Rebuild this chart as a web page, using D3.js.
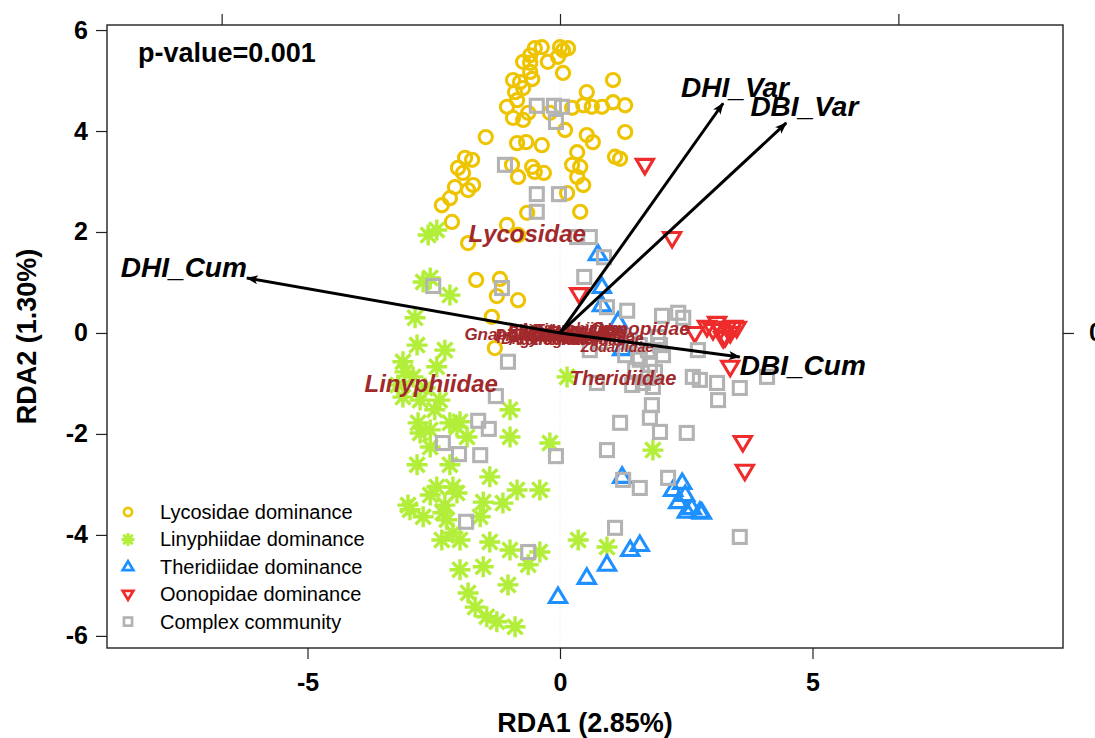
<!DOCTYPE html>
<html>
<head>
<meta charset="utf-8">
<script src="https://cdn.jsdelivr.net/npm/d3@7"></script>
<style>
  html, body { margin: 0; padding: 0; background: #fff; }
  svg { display: block; font-family: "Liberation Sans", Arial, Helvetica, sans-serif; }
</style>
</head>
<body>
<svg id="chart" width="1095" height="738"></svg>
<script>
// ---------------- data: RDA site scores per community type ----------------
const lycosidaeSites = [
  [-0.50,5.64],[-0.36,5.66],[0.00,5.66],[0.16,5.64],[0.06,5.60],[-0.59,5.50],[-0.73,5.37],[-0.59,5.35],
  [-0.24,5.37],[-0.04,5.47],[0.06,5.15],[-0.59,5.17],[-0.93,5.01],[-0.79,4.97],[-0.55,5.03],[-0.89,4.77],
  [-0.73,4.85],[1.05,5.01],[0.53,4.77],[-1.05,4.48],[-0.85,4.61],[-0.63,4.36],[-0.93,4.26],[-0.73,4.22],
  [-0.20,4.36],[0.24,4.46],[0.46,4.51],[0.63,4.48],[0.83,4.48],[1.05,4.57],[1.29,4.51],[0.10,4.02],
  [0.53,3.92],[0.65,3.78],[1.29,3.98],[-1.47,3.88],[-0.85,3.76],[-0.67,3.78],[-0.36,3.72],[0.34,3.58],
  [1.09,3.49],[1.19,3.45],[-1.88,3.47],[-1.74,3.43],[-2.02,3.27],[-1.92,3.17],[-1.72,2.93],[-2.08,2.89],
  [-2.18,2.67],[-2.34,2.53],[-0.95,3.33],[-0.83,3.09],[-0.55,3.29],[-0.50,3.19],[-0.32,3.17],[0.24,3.33],
  [0.40,3.29],[0.34,3.09],[0.46,2.93],[0.14,2.77],[-0.65,2.38],[0.40,2.40],[-2.14,2.20],[-1.82,1.78],
  [-1.05,2.14],[-0.83,1.94],[-1.66,1.05],[-1.19,1.07],[-1.25,0.73],[-0.83,0.65],[-1.35,0.32],[-1.29,-0.30],
  [-1.82,2.83]
];
const linyphiidaeSites = [
  [-2.61,1.94],[-2.44,2.04],[-2.71,1.01],[-2.57,1.09],[-2.18,0.75],[-2.87,0.30],[-2.83,-0.24],[-2.28,-0.34],
  [-3.11,-0.57],[-2.44,-0.67],[-2.91,-0.87],[-3.21,-1.03],[-2.67,-1.09],[-3.11,-1.27],[-2.77,-1.33],[-2.38,-1.33],
  [-0.99,-1.52],[-2.81,-1.78],[-2.18,-1.78],[-1.98,-1.76],[-2.77,-1.98],[-2.57,-1.92],[-2.04,-1.86],[-1.84,-2.06],
  [-0.99,-2.06],[-2.57,-2.26],[-0.20,-2.18],[-2.83,-2.61],[-2.18,-2.61],[-1.39,-2.85],[-0.40,-3.11],[-0.85,-3.11],
  [-2.57,-3.21],[-2.04,-3.17],[-2.44,-3.05],[-2.12,-3.05],[-1.52,-3.35],[-1.13,-3.37],[-2.97,-3.50],[-2.71,-3.64],
  [-2.24,-3.70],[-1.58,-3.64],[-2.32,-3.56],[-2.12,-3.96],[-2.34,-4.10],[-1.98,-4.10],[-1.39,-4.14],[-0.99,-4.30],
  [-0.40,-4.34],[-1.98,-4.69],[-1.52,-4.63],[-0.63,-4.59],[-1.03,-4.99],[-1.82,-5.15],[-1.68,-5.43],[-1.45,-5.62],
  [-1.25,-5.72],[-0.89,-5.82],[0.36,-4.10],[0.93,-4.24],[1.84,-2.32],[0.14,-0.87],[-3.07,-0.77],[-3.01,-3.41],
  [-2.48,-1.52],[-2.28,-3.41]
];
const theridiidaeSites = [
  [0.75,1.56],[0.83,0.91],[0.83,0.55],[1.15,0.22],[1.23,-0.32],[1.23,-2.85],[2.42,-2.97],[2.24,-3.11],
  [2.48,-3.21],[2.34,-3.35],[2.61,-3.47],[2.77,-3.54],[2.51,-3.54],[2.81,-3.56],[1.58,-4.20],[1.39,-4.30],
  [0.93,-4.59],[0.53,-4.85],[-0.04,-5.23]
];
const oonopidaeSites = [
  [1.68,3.33],[2.22,1.88],[0.38,0.77],[2.67,0.00],[2.91,0.12],[3.03,0.06],[3.11,0.20],[3.17,0.06],
  [3.27,-0.08],[3.31,0.10],[3.37,0.00],[3.43,0.12],[3.50,0.10],[3.23,-0.10],[3.37,-0.67],[3.62,-2.16],
  [3.66,-2.73]
];
const complexSites = [
  [-0.46,4.50],[-0.12,4.50],[0.04,4.48],[-0.08,4.18],[-1.09,3.33],[-0.46,2.75],[-0.02,2.75],[-0.46,2.40],
  [0.34,1.90],[0.59,1.90],[0.87,1.50],[-2.51,0.93],[-1.15,0.89],[0.48,1.11],[0.93,0.51],[1.33,0.44],
  [2.02,0.34],[2.44,0.30],[1.94,-0.08],[2.73,-0.34],[1.29,-0.44],[1.58,-0.53],[2.04,-0.44],[1.64,-0.99],
  [1.84,-1.07],[2.63,-0.87],[2.77,-0.93],[3.11,-0.99],[3.56,-1.09],[4.10,-0.87],[3.13,-1.33],[1.82,-1.43],
  [1.78,-1.68],[1.19,-1.78],[1.98,-1.96],[2.51,-1.98],[0.93,-2.32],[2.14,-2.87],[1.58,-3.07],[1.25,-2.91],
  [1.09,-3.86],[3.56,-4.04],[-1.03,-0.57],[-1.27,-1.25],[-1.62,-1.74],[-1.41,-1.90],[-2.32,-2.18],[-2.00,-2.40],
  [-1.58,-2.42],[-0.08,-2.44],[-1.86,-3.74],[-0.63,-4.34],[0.73,-0.99],[1.39,-0.14],[1.58,-0.24],[1.74,-0.34],
  [1.78,-0.63],[1.49,-0.73],[1.88,-0.77],[1.74,-0.89],[1.43,-1.03],[1.98,-0.24],[1.19,-0.10],[0.79,-0.18],
  [0.59,-0.34],[2.34,0.40]
];

const groupNames = ["Lycosidae dominance", "Linyphiidae dominance", "Theridiidae dominance",
                    "Oonopidae dominance", "Complex community"];

// family (species) scores and their relative abundance
const familyNames = ["Gnaphosidae","Pisauridae","Dictynidae","Salticidae","Agelenidae","Thomisidae",
  "Philodromidae","Araneidae","Amaurobiidae","Tetragnathidae","Clubionidae","Titanoecidae","Hahniidae",
  "Liocranidae","Corinnidae","Zodariidae","Oonopidae","Theridiidae","Lycosidae","Linyphiidae"];
const familyX = [-0.83,-0.50,-0.40,-0.28,-0.18,-0.08,0.02,0.12,0.18,0.22,0.32,0.42,0.52,0.62,0.85,1.13,1.58,1.25,-0.65,-2.55];
const familyY = [-0.02,-0.04,-0.10,0.02,-0.12,-0.05,0.06,0.00,0.10,-0.12,-0.06,0.08,0.04,-0.04,-0.10,-0.28,0.10,-0.89,1.98,-0.99];
const familyAbund = [0.56,0.48,0.46,0.52,0.48,0.52,0.46,0.50,0.44,0.46,0.50,0.46,0.50,0.46,0.48,0.40,0.70,0.75,1.00,1.00];

// environmental vectors (biplot arrows)
const envNames = ["DHI_Cum", "DBI_Cum", "DHI_Var", "DBI_Var"];
const envX = [-6.20, 3.56, 3.23, 4.48];
const envY = [1.09, -0.475, 4.55, 4.16];

const xTicks = [-5, 0, 5];
const yTicks = [-6, -4, -2, 0, 2, 4, 6];
const speciesTicks = [-1, 0, 1];
const speciesAxisMult = 6.7;   // site units per species-axis unit
const pValueText = "p-value=0.001";
const xTitle = "RDA1 (2.85%)";
const yTitle = "RDA2 (1.30%)";

// ---------------- layout ----------------
const svg = d3.select("#chart");
const plot = { left: 107, right: 1063, top: 25, bottom: 648 };

const x = d3.scaleLinear().domain([-8.97, 9.96]).range([plot.left, plot.right]);
const y = d3.scaleLinear().domain([-6.24, 6.10]).range([plot.bottom, plot.top]);
const x2 = d3.scaleLinear().domain(x.domain().map(d => d / speciesAxisMult)).range(x.range());
const y2 = d3.scaleLinear().domain(y.domain().map(d => d / speciesAxisMult)).range(y.range());

const colors = ["#EEC400", "#B3EE3A", "#1E90FF", "#EE2C2C", "#B3B3B3"];
const brown = "#A2292B";
const fontSize = d3.scaleLinear().domain([0, 1]).range([8, 24]);

// zero reference line
svg.append("line")
  .attr("x1", x(0)).attr("x2", x(0)).attr("y1", plot.top).attr("y2", plot.bottom)
  .attr("stroke", "#e4e4e4").attr("stroke-width", 1).attr("stroke-dasharray", "1 2");

// ---------------- axes ----------------
function styleAxis(g) {
  g.select(".domain").remove();
  g.selectAll(".tick line").attr("stroke", "#222").attr("stroke-width", 1.2);
  g.selectAll(".tick text")
    .attr("fill", "#000").attr("font-size", 25).attr("font-weight", "bold")
    .attr("font-family", "'Liberation Sans', Arial, sans-serif");
}
svg.append("g").attr("transform", `translate(0,${plot.bottom})`)
  .call(d3.axisBottom(x).tickValues(xTicks).tickSize(11).tickPadding(14).tickFormat(d3.format("d")))
  .call(styleAxis);
svg.append("g").attr("transform", `translate(${plot.left},0)`)
  .call(d3.axisLeft(y).tickValues(yTicks).tickSize(11).tickPadding(8).tickFormat(d3.format("d")))
  .call(styleAxis);
// species axis on top: its labels fall above the drawing area, so only the ticks show
svg.append("g").attr("transform", `translate(0,${plot.top})`)
  .call(d3.axisTop(x2).tickValues(speciesTicks).tickSize(11).tickFormat(() => ""))
  .call(styleAxis);
const yd2 = y2.domain();
svg.append("g").attr("transform", `translate(${plot.right},0)`)
  .call(d3.axisRight(y2).tickValues(speciesTicks.filter(v => v >= Math.min(...yd2) && v <= Math.max(...yd2)))
    .tickSize(11).tickPadding(15).tickFormat(d3.format("d")))
  .call(styleAxis);

// minus signs in tick labels are plain hyphens
svg.selectAll(".tick text").text(function () { return this.textContent.replace("\u2212", "-"); });

// ---------------- site symbols ----------------
function drawSymbol(g, type, cx, cy, s, color, sw) {
  if (type === 0) {
    g.append("circle").attr("cx", cx).attr("cy", cy).attr("r", 6.6 * s)
      .attr("fill", "none").attr("stroke", color).attr("stroke-width", sw);
  } else if (type === 1) {
    const r = 10.5 * s, d = r * 0.72;
    g.append("path")
      .attr("d", `M${cx - r},${cy}L${cx + r},${cy}M${cx},${cy - r}L${cx},${cy + r}` +
                 `M${cx - d},${cy - d}L${cx + d},${cy + d}M${cx - d},${cy + d}L${cx + d},${cy - d}`)
      .attr("stroke", color).attr("stroke-width", sw * 1.1).attr("fill", "none");
  } else if (type === 2 || type === 3) {
    const h = 14.5 * s, w = 8.6 * s, dir = type === 2 ? 1 : -1;
    g.append("path")
      .attr("d", `M${cx},${cy - dir * h * 0.62}L${cx + w},${cy + dir * h * 0.38}L${cx - w},${cy + dir * h * 0.38}Z`)
      .attr("stroke", color).attr("stroke-width", sw).attr("fill", "none").attr("stroke-linejoin", "miter");
  } else {
    const a = 6.5 * s;
    g.append("rect").attr("x", cx - a).attr("y", cy - a).attr("width", 2 * a).attr("height", 2 * a)
      .attr("fill", "none").attr("stroke", color).attr("stroke-width", sw);
  }
}

const groups = [lycosidaeSites, linyphiidaeSites, theridiidaeSites, oonopidaeSites, complexSites];
const pts = svg.append("g");
groups.forEach((sites, gi) => {
  sites.forEach(([vx, vy]) => drawSymbol(pts, gi, x(vx), y(vy), 1, colors[gi], 3.1));
});

// ---------------- family labels ----------------
const famG = svg.append("g");
familyNames.forEach((name, i) => {
  const fs = fontSize(familyAbund[i]);
  famG.append("text")
    .attr("x", x(familyX[i])).attr("y", y(familyY[i]) + 0.36 * fs)
    .attr("text-anchor", "middle")
    .attr("font-size", fs).attr("font-weight", "bold").attr("font-style", "italic")
    .attr("fill", brown)
    .text(name);
});

// ---------------- biplot arrows ----------------
svg.append("defs").append("marker")
  .attr("id", "head").attr("viewBox", "0 0 12 10").attr("refX", 11).attr("refY", 5)
  .attr("markerWidth", 12).attr("markerHeight", 10).attr("markerUnits", "userSpaceOnUse")
  .attr("orient", "auto")
  .append("path").attr("d", "M0,0.5L12,5L0,9.5L3,5Z").attr("fill", "#000");

const arrG = svg.append("g");
envNames.forEach((name, i) => {
  arrG.append("line")
    .attr("x1", x(0)).attr("y1", y(0)).attr("x2", x(envX[i])).attr("y2", y(envY[i]))
    .attr("stroke", "#000").attr("stroke-width", 3).attr("marker-end", "url(#head)");
});
envNames.forEach((name, i) => {
  const fs = 28;
  const tx = x(envX[i]), ty = y(envY[i]);
  const t = arrG.append("text")
    .attr("font-size", fs).attr("font-weight", "bold").attr("font-style", "italic")
    .attr("fill", "#000").attr("text-anchor", "middle").text(name);
  const w = t.node().getBBox().width, h = 1.2 * fs;
  const dx = tx - x(0), dy = ty - y(0);
  const k = Math.min((w / 2) / Math.abs(dx), (h / 2) / Math.abs(dy));
  t.attr("x", tx + k * dx).attr("y", ty + k * dy + 0.36 * fs);
});

// ---------------- plot frame ----------------
svg.append("rect")
  .attr("x", plot.left).attr("y", plot.top)
  .attr("width", plot.right - plot.left).attr("height", plot.bottom - plot.top)
  .attr("fill", "none").attr("stroke", "#222").attr("stroke-width", 1.4);

// ---------------- annotations ----------------
svg.append("text").attr("x", 138).attr("y", 62)
  .attr("font-size", 27).attr("font-weight", "bold").text(pValueText);

svg.append("text").attr("x", (plot.left + plot.right) / 2).attr("y", 732)
  .attr("text-anchor", "middle").attr("font-size", 27).attr("font-weight", "bold").text(xTitle);

svg.append("text")
  .attr("transform", `translate(36,${(plot.top + plot.bottom) / 2}) rotate(-90)`)
  .attr("text-anchor", "middle").attr("font-size", 27).attr("font-weight", "bold").text(yTitle);

// ---------------- legend ----------------
const leg = svg.append("g");
groupNames.forEach((name, i) => {
  const cy = 512 + i * 27.4;
  drawSymbol(leg, i, 128, cy, 0.62, colors[i], 2.7);
  leg.append("text").attr("x", 160).attr("y", cy + 7)
    .attr("font-size", 20).attr("fill", "#000").text(name);
});
</script>
</body>
</html>
